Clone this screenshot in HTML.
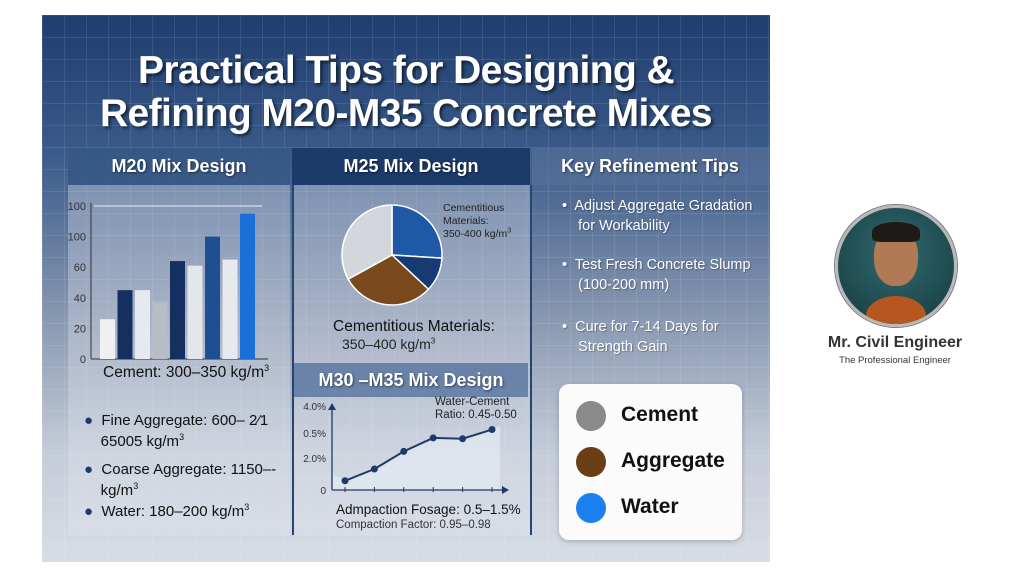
<!DOCTYPE html>
<html><head><meta charset="utf-8"><style>
body{margin:0;width:1024px;height:576px;background:#fff;position:relative;overflow:hidden;font-family:"Liberation Sans",sans-serif}
.abs{position:absolute}
#info{left:42px;top:15px;width:728px;height:547px;background:linear-gradient(180deg,#1f3d6e 0%,#3a5a8a 25%,#8797b0 55%,#c4ccd8 80%,#d8dde5 100%);overflow:hidden}
#grid{left:0;top:0;width:728px;height:547px;background-image:linear-gradient(rgba(255,255,255,.09) 1px,transparent 1px),linear-gradient(90deg,rgba(255,255,255,.09) 1px,transparent 1px);background-size:22px 22px}
.title{left:0;width:728px;text-align:center;color:#fff;font-weight:bold;font-size:39px;letter-spacing:-.6px;text-shadow:2px 2px 3px rgba(0,0,0,.6)}
.panel{background:rgba(225,230,238,.35)}
.hdr{color:#fff;font-weight:bold;font-size:18px;text-align:center;line-height:37px;text-shadow:1px 1px 2px rgba(0,0,0,.5)}
.txt{color:#111;font-size:15px}
.tip{color:#fff;font-size:14.5px;line-height:20px;text-shadow:1px 1px 1px rgba(0,0,0,.3)}
sup{line-height:0}
</style></head><body>
<div id="info" class="abs">
<div id="grid" class="abs"></div>
<div class="abs title" style="top:34px">Practical Tips for Designing &amp;</div>
<div class="abs title" style="top:77px">Refining M20-M35 Concrete Mixes</div>

<div class="abs panel" style="left:26px;top:133px;width:222px;height:387px"></div>
<div class="abs hdr" style="left:26px;top:133px;width:222px;background:rgba(40,75,125,.8)">M20 Mix Design</div>
<div class="abs panel" style="left:250px;top:133px;width:236px;height:387px;border-left:2px solid #27456f;border-right:2px solid #27456f"></div>
<div class="abs hdr" style="left:250px;top:133px;width:238px;background:#1c3b6b">M25 Mix Design</div>
<div class="abs hdr" style="left:488px;top:133px;width:240px;background:rgba(90,115,155,.6)">Key Refinement Tips</div>
<div class="abs hdr" style="left:252px;top:348px;width:234px;background:rgba(80,110,155,.75);line-height:34px">M30 –M35 Mix Design</div>
</div>

<svg class="abs" style="left:0;top:0" width="1024" height="576">
<g id="bars"></g>
<g id="pie"></g>
<g id="line"></g>
</svg>

<div class="abs txt" style="left:103px;top:364px;font-size:15.5px">Cement: 300–350 kg/m<sup style="font-size:9px">3</sup></div>
<div class="abs txt" style="left:84px;top:410px;line-height:21px"><span style="color:#1c3b6b">●</span>&nbsp; Fine Aggregate: 600– 2⁄1<br>&nbsp;&nbsp;&nbsp;&nbsp;65005 kg/m<sup style="font-size:9px">3</sup></div>
<div class="abs txt" style="left:84px;top:459px;line-height:21px"><span style="color:#1c3b6b">●</span>&nbsp; Coarse Aggregate: 1150–-<br>&nbsp;&nbsp;&nbsp;&nbsp;kg/m<sup style="font-size:9px">3</sup></div>
<div class="abs txt" style="left:84px;top:503px"><span style="color:#1c3b6b">●</span>&nbsp; Water: 180–200 kg/m<sup style="font-size:9px">3</sup></div>

<div class="abs" style="left:443px;top:202px;font-size:10.5px;color:#222;line-height:13px">Cementitious<br>Materials:<br>350-400 kg/m<sup style="font-size:7px">3</sup></div>
<div class="abs txt" style="left:333px;top:318px;font-size:15.5px">Cementitious Materials:</div>
<div class="abs txt" style="left:342px;top:336px;font-size:14px;color:#222">350–400 kg/m<sup style="font-size:8px">3</sup></div>
<div class="abs" style="left:435px;top:396px;font-size:11.5px;color:#222;line-height:13px">Water-Cement<br>Ratio: 0.45-0.50</div>
<div class="abs txt" style="left:336px;top:502px;font-size:13.5px">Admpaction Fosage: 0.5–1.5%</div>
<div class="abs" style="left:336px;top:519px;font-size:11.5px;color:#333">Compaction Factor: 0.95–0.98</div>

<div class="abs tip" style="left:562px;top:196px">•&nbsp; Adjust Aggregate Gradation<br>&nbsp;&nbsp;&nbsp; for Workability</div>
<div class="abs tip" style="left:562px;top:255px">•&nbsp; Test Fresh Concrete Slump<br>&nbsp;&nbsp;&nbsp; (100-200 mm)</div>
<div class="abs tip" style="left:562px;top:317px">•&nbsp; Cure for 7-14 Days for<br>&nbsp;&nbsp;&nbsp; Strength Gain</div>

<div class="abs" style="left:559px;top:384px;width:183px;height:156px;background:#fbfbfc;border-radius:10px;box-shadow:0 2px 6px rgba(0,0,0,.2)">
<div class="abs" style="left:17px;top:17px;width:30px;height:30px;border-radius:50%;background:#8a8a8a"></div>
<div class="abs" style="left:62px;top:19px;font-size:21px;font-weight:bold;color:#111">Cement</div>
<div class="abs" style="left:17px;top:63px;width:30px;height:30px;border-radius:50%;background:#6b3f16"></div>
<div class="abs" style="left:62px;top:65px;font-size:21px;font-weight:bold;color:#111">Aggregate</div>
<div class="abs" style="left:17px;top:109px;width:30px;height:30px;border-radius:50%;background:#1b7ff0"></div>
<div class="abs" style="left:62px;top:111px;font-size:21px;font-weight:bold;color:#111">Water</div>
</div>

<div class="abs" style="left:835px;top:205px;width:116px;height:116px;border-radius:50%;background:radial-gradient(circle at 50% 40%,#2f6a6e,#16393f);border:3px solid #b9b9b9;box-shadow:0 0 0 1px #777;overflow:hidden">
<div class="abs" style="left:28px;top:88px;width:60px;height:40px;border-radius:50% 50% 0 0;background:#b8561f"></div>
<div class="abs" style="left:36px;top:20px;width:44px;height:58px;border-radius:45%;background:#b07a55"></div>
<div class="abs" style="left:34px;top:14px;width:48px;height:20px;border-radius:50% 50% 20% 20%;background:#1e1a18"></div>
</div>
<div class="abs" style="left:800px;top:334px;width:190px;text-align:center;font-size:16px;font-weight:bold;color:#333">Mr. Civil Engineer</div>
<div class="abs" style="left:800px;top:355px;width:190px;text-align:center;font-size:9.5px;color:#333">The Professional Engineer</div>

<script>
const NS="http://www.w3.org/2000/svg";
const barValues=[26,45,45,37,64,61,80,65,95];
const barColors=["#eef0f4","#15305e","#e6e9ee","#b8bcc4","#15305e","#e3e6eb","#1e4f93","#e6e9ee","#1b6fd6"];
const barTickValues=[0,20,40,60,80,100];
const barTickLabels=["0","20","40","60","100","100"];
const pieValues=[26,11,30,33];
const pieColors=["#1e58a6","#163a72","#7a4a1e","#d3d6db"];
const lineValues=[0.55,1.25,2.3,3.1,3.05,3.6];
const lineTickValues=[0,1.9,3.4,5];
const lineTickLabels=["0","2.0%","0.5%","4.0%"];
function mk(t,a,p){const e=document.createElementNS(NS,t);for(const k in a)e.setAttribute(k,a[k]);p.appendChild(e);return e;}
const bg=document.getElementById('bars');
const by=v=>359-v*1.53, bx=i=>100+i*17.5;
mk('line',{x1:91,y1:203,x2:91,y2:359,stroke:'#333','stroke-width':1},bg);
mk('line',{x1:91,y1:359,x2:268,y2:359,stroke:'#333','stroke-width':1},bg);
mk('line',{x1:94,y1:206,x2:262,y2:206,stroke:'#eef','stroke-width':1},bg);
barTickValues.forEach((v,i)=>{const t=mk('text',{x:86,y:by(v)+4,'text-anchor':'end','font-size':11,fill:'#333'},bg);t.textContent=barTickLabels[i];

});
barValues.forEach((v,i)=>{const r=mk('rect',{x:bx(i),y:by(v),width:15,height:359-by(v),fill:barColors[i]},bg);

});
const pg=document.getElementById('pie');
const cx=392,cy=255,R=50,tot=pieValues.reduce((a,b)=>a+b,0);let a0=0;
pieValues.forEach((v,i)=>{const a1=a0+v/tot*2*Math.PI;
const x0=cx+R*Math.sin(a0),y0=cy-R*Math.cos(a0),x1=cx+R*Math.sin(a1),y1=cy-R*Math.cos(a1);
const p=mk('path',{d:`M${cx},${cy}L${x0},${y0}A${R},${R} 0 ${a1-a0>Math.PI?1:0} 1 ${x1},${y1}Z`,fill:pieColors[i],stroke:'#fff','stroke-width':1.5},pg);

a0=a1;});
const lg=document.getElementById('line');
const ly=v=>490-v*16.8, lx=i=>345+i*29.4;
const pts=lineValues.map((v,i)=>[lx(i),ly(v)]);
mk('path',{d:'M332,474 L'+pts.map(p=>p.join(',')).join(' L')+' L500,426 L500,490 L332,490Z',fill:'rgba(230,238,248,.6)'},lg);
mk('line',{x1:332,y1:490,x2:332,y2:405,stroke:'#1c3b6b','stroke-width':1.3},lg);
mk('path',{d:'M328,410 L332,403 L336,410Z',fill:'#1c3b6b'},lg);
mk('line',{x1:332,y1:490,x2:505,y2:490,stroke:'#1c3b6b','stroke-width':1.3},lg);
mk('path',{d:'M502,486 L509,490 L502,494Z',fill:'#1c3b6b'},lg);
lineTickValues.forEach((v,i)=>{const t=mk('text',{x:326,y:ly(v)+4,'text-anchor':'end','font-size':10,fill:'#333'},lg);t.textContent=lineTickLabels[i];

});
lineValues.forEach((v,i)=>mk('line',{x1:lx(i),y1:487,x2:lx(i),y2:492,stroke:'#333'},lg));
mk('polyline',{points:pts.map(p=>p.join(',')).join(' '),fill:'none',stroke:'#1c3b6b','stroke-width':2},lg);
pts.forEach((p,i)=>{const c=mk('circle',{cx:p[0],cy:p[1],r:3.5,fill:'#1c3b6b'},lg);

});
</script>
</body></html>
